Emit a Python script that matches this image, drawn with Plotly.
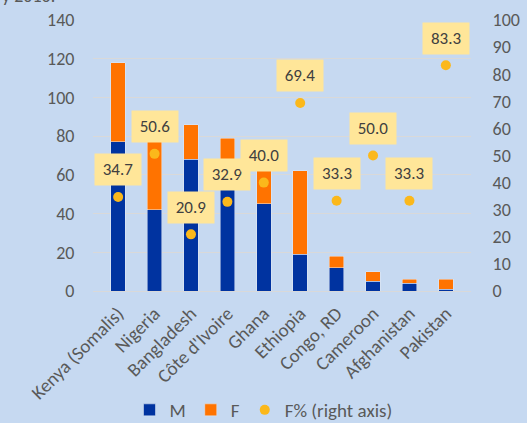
import plotly.graph_objects as go

countries = ["Kenya (Somalis)", "Nigeria", "Bangladesh", "Côte d'Ivoire", "Ghana",
             "Ethiopia", "Congo, RD", "Cameroon", "Afghanistan", "Pakistan"]
male = [77, 42, 68, 53, 45, 19, 12, 5, 4, 1]
female = [41, 43, 18, 26, 30, 43, 6, 5, 2, 5]
female_pct = [34.7, 50.6, 20.9, 32.9, 40.0, 69.4, 33.3, 50.0, 33.3, 83.3]

BG = "#C6D9F1"
GRID = "#D9D9D9"
TXT = "#595959"
FONT = "Carlito, Calibri, Lato, sans-serif"

fig = go.Figure()
fig.add_trace(go.Bar(x=countries, y=male, name="M", marker=dict(color="#0033A0")))
fig.add_trace(go.Bar(x=countries, y=female, name="F", marker=dict(color="#FF7300")))
fig.add_trace(go.Scatter(x=countries, y=female_pct, name="F% (right axis)", mode="markers",
                         yaxis="y2", marker=dict(color="#FBB81B", size=10)))

for c, p in zip(countries, female_pct):
    fig.add_annotation(x=c, y=p, xref="x", yref="y2", text=f"{p:.1f}", showarrow=False,
                       yshift=27, bgcolor="#FFE699", width=44, height=29,
                       font=dict(family=FONT, size=17, color="#404040"))

fig.add_annotation(x=-93/378, y=1 + 24/271, xref="paper", yref="paper", xanchor="left",
                   yanchor="middle", text="y 2016.", showarrow=False,
                   font=dict(family=FONT, size=18, color=TXT))

fig.update_layout(
    width=527, height=423,
    barmode="stack", bargap=0.6,
    paper_bgcolor=BG, plot_bgcolor=BG,
    margin=dict(l=93, r=56, t=20, b=132, autoexpand=False),
    font=dict(family=FONT, size=17, color=TXT),
    showlegend=True,
    legend=dict(orientation="h", x=0.5, xanchor="center", xref="container",
                y=1 - 410/423, yanchor="middle", yref="container",
                font=dict(size=19, color=TXT), traceorder="normal", itemwidth=30),
    xaxis=dict(tickangle=-45, showline=True, linecolor=GRID, ticks="outside",
               ticklen=3, tickcolor="rgba(0,0,0,0)", tickfont=dict(size=19, color=TXT),
               automargin=False),
    yaxis=dict(range=[0, 140], dtick=20, gridcolor=GRID, zeroline=False,
               ticks="outside", ticklen=14, tickcolor="rgba(0,0,0,0)",
               tickfont=dict(size=18, color=TXT), automargin=False),
    yaxis2=dict(range=[0, 100], dtick=10, overlaying="y", side="right", showgrid=False,
                zeroline=False, ticks="outside", ticklen=17, tickcolor="rgba(0,0,0,0)",
                tickfont=dict(size=18, color=TXT), automargin=False),
)

fig.write_html("out.html", config={"displayModeBar": False},
               post_script="document.body.style.margin='0';")
